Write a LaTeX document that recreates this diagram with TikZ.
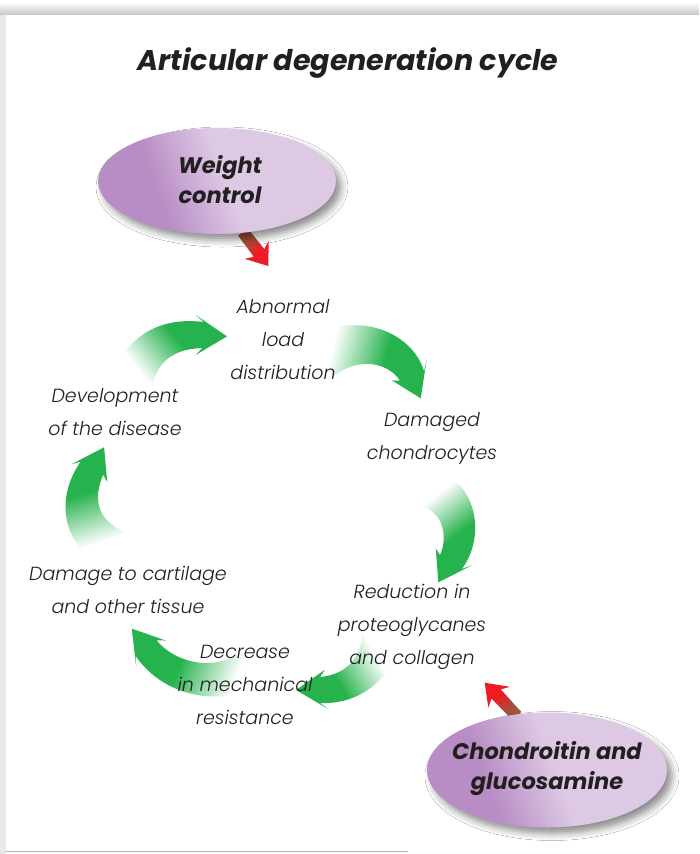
\documentclass[tikz,border=0pt]{standalone}
\usepackage{fontspec}
\setmainfont{Poppins}
\newfontfamily\lightfont{Poppins}[UprightFont={* Light}, ItalicFont={* Light Italic}, BoldFont={* Light}]
\usetikzlibrary{shapes.geometric,shadows.blur}
\definecolor{garrow}{RGB}{38,178,77}
\definecolor{txt}{RGB}{35,31,32}
\definecolor{pdark}{RGB}{184,140,196}
\definecolor{plight}{RGB}{221,201,228}
\definecolor{rarrow}{RGB}{237,28,36}
\definecolor{rdark}{RGB}{165,80,60}
\pgfdeclareverticalshading{gfade}{100bp}{color(0bp)=(white); color(33bp)=(white); color(58bp)=(garrow); color(100bp)=(garrow)}
\pgfdeclareverticalshading{rfade}{100bp}{color(0bp)=(rdark); color(38bp)=(rdark); color(58bp)=(rarrow); color(100bp)=(rarrow)}
\pgfdeclareverticalshading{pshade}{100bp}{color(0bp)=(pdark); color(35bp)=(pdark); color(52bp)=(plight); color(100bp)=(plight)}
\tikzset{
  seg/.style={sloped, allow upside down, rectangle, inner sep=0pt, outer sep=0pt, minimum width=0.1pt},
  tipnode/.style={sloped, allow upside down, rectangle, anchor=west, inner sep=0pt, outer sep=0pt, minimum height=0.1pt},
  lbl/.style={align=center, text=txt, font=\lightfont\fontsize{19}{33}\selectfont\itshape},
  blbl/.style={align=center, text=txt, font=\fontsize{22.5}{30}\selectfont\bfseries\itshape},
  bubble/.style={ellipse, shade, shading=pshade, shading angle=-70, inner sep=0pt,
     blur shadow={shadow xshift=5pt, shadow yshift=-6pt, shadow blur radius=7pt, shadow opacity=45}},
}
\def\HL{24}\def\HW{40}\def\HB{0.93}
% #1 name, #2 tail, #3 c1, #4 c2, #5 neck, #6 tail width, #7 neck width, #8 shading, #9 angle
\newcommand\cycarrow[9]{%
  \path (#2) .. controls (#3) and (#4) .. (#5)
    \foreach \k in {0,...,24}{ node[seg, pos=\k/24, minimum height={(#6+(#7-#6)*\k/24)*1pt}] (#1s\k) {} }
    node[seg, pos=\HB, minimum height=\HW pt] (#1b) {}
    node[tipnode, pos=1, minimum width=\HL pt] (#1t) {};
  \shade[shading=#8, shading angle=#9] (#1s0.north)
    \foreach \k in {1,...,24}{ -- (#1s\k.north) }
    -- (#1b.north) -- (#1t.east) -- (#1b.south)
    \foreach \k in {24,23,...,0}{ -- (#1s\k.south) } -- cycle;
}
\begin{document}
\begin{tikzpicture}[x=1pt,y=-1pt]
\useasboundingbox (0,0) rectangle (699,854);
\fill[white] (0,0) rectangle (699,854);
\shade[top color=white, bottom color=gray!45] (0,2) rectangle (699,15);
\fill[gray!18] (0,15) rectangle (6,854);
\fill[white] (6,15) rectangle (699,851);
\draw[gray!60, line width=1.5pt] (6,851.5) -- (408,851.5);

% title
\node[text=txt, font=\fontsize{28.5}{34}\selectfont\bfseries\itshape] (title) at (348,63) {Articular degeneration cycle};

% green cycle arrows
\coordinate (a1t) at (320,358); \coordinate (a1n) at (412,376);
\cycarrow{a1}{a1t}{358,332}{401,348}{a1n}{46}{26}{gfade}{-105}
\coordinate (a2t) at (426,486); \coordinate (a2n) at (451,562);
\cycarrow{a2}{a2t}{462,498}{466,538}{a2n}{42}{26}{gfade}{-142}
\coordinate (a3t) at (380,630); \coordinate (a3n) at (320,690);
\cycarrow{a3}{a3t}{382,665}{354,690}{a3n}{38}{26}{gfade}{121}
\coordinate (a4t) at (258,666); \coordinate (a4n) at (146,648);
\cycarrow{a4}{a4t}{215,692}{168,678}{a4n}{38}{26}{gfade}{68}
\coordinate (a5t) at (112,549); \coordinate (a5n) at (92,468);
\cycarrow{a5}{a5t}{74,527}{78,492}{a5n}{42}{26}{gfade}{17}
\coordinate (a6t) at (131,390); \coordinate (a6n) at (203,335);
\cycarrow{a6}{a6t}{138,348}{168,333}{a6n}{42}{26}{gfade}{-51}

% red arrows
\def\HL{16}\def\HW{30}\def\HB{0.85}
\coordinate (r1t) at (243,232); \coordinate (r1n) at (259,253);
\cycarrow{r1}{r1t}{248,239}{254,246}{r1n}{12}{13}{rfade}{-138}
\coordinate (r2t) at (517,716); \coordinate (r2n) at (496,694);
\cycarrow{r2}{r2t}{510,709}{503,701}{r2n}{12}{13}{rfade}{42}

% bubbles
\node[bubble, minimum width=238pt, minimum height=106pt] (wc) at (217,181) {};
\node[blbl] (wct) at (220,180) {Weight\\control};
\node[bubble, minimum width=240pt, minimum height=115pt] (cg) at (547,770) {};
\node[blbl] (cgt) at (547,769) {Chondroitin and\\glucosamine};

% cycle labels
\node[lbl] (abn) at (283,340) {Abnormal\\load\\distribution};
\node[lbl] (dam) at (432,438) {Damaged\\chondrocytes};
\node[lbl] (red) at (412,627) {Reduction in\\proteoglycanes\\and collagen};
\node[lbl] (dec) at (245,685) {Decrease\\in mechanical\\resistance};
\node[lbl] (dtc) at (128,590) {Damage to cartilage\\and other tissue};
\node[lbl] (dev) at (115,412) {Development\\of the disease};
\end{tikzpicture}
\end{document}
